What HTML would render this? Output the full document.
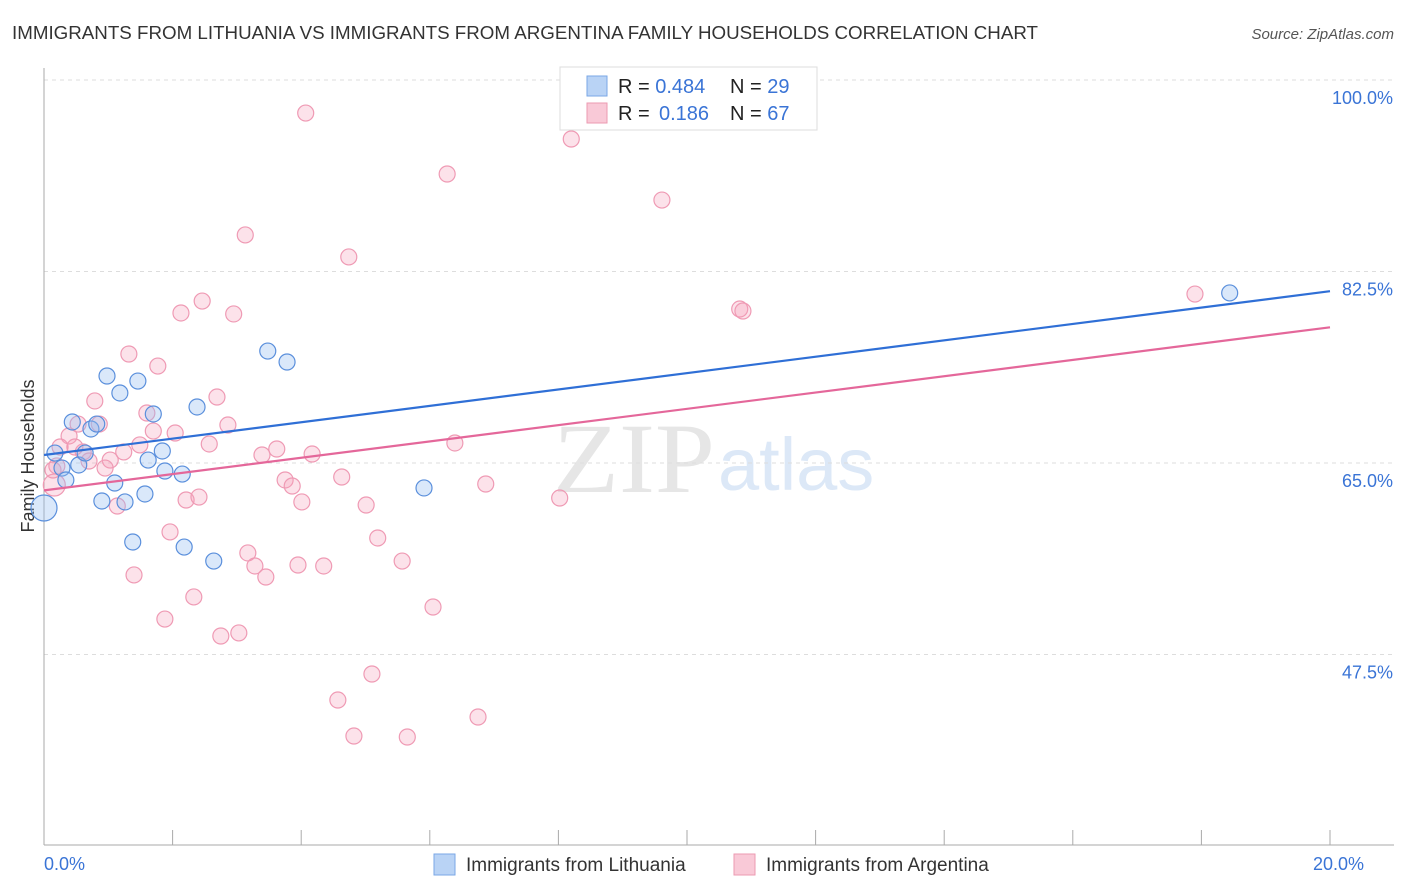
<!DOCTYPE html>
<html><head><meta charset="utf-8"><style>
body{margin:0;background:#fff;font-family:"Liberation Sans",sans-serif;}
#wrap{position:relative;width:1406px;height:892px;overflow:hidden;}
</style></head><body>
<div id="wrap">
<svg id="svg" width="1406" height="892" xmlns="http://www.w3.org/2000/svg">
<text x="12" y="39" font-size="18" fill="#333" textLength="1026" lengthAdjust="spacingAndGlyphs">IMMIGRANTS FROM LITHUANIA VS IMMIGRANTS FROM ARGENTINA FAMILY HOUSEHOLDS CORRELATION CHART</text>
<text x="1394" y="39" font-size="15" fill="#555" font-style="italic" text-anchor="end">Source: ZipAtlas.com</text>
<text x="34" y="456" font-size="18" fill="#333" text-anchor="middle" transform="rotate(-90 34 456)">Family Households</text>
<text x="553" y="492" font-size="100" fill="#e6e6e6" font-family="Liberation Serif, serif" textLength="162" lengthAdjust="spacingAndGlyphs">ZIP</text>
<text x="718" y="490" font-size="74" fill="#dce8f7">atlas</text>
<g id="grid"></g><g id="pts"></g><g id="lines"></g>
<g>
<rect x="560" y="67" width="257" height="63" fill="#fff" stroke="#ddd"/>
<rect x="587" y="76" width="20" height="20" fill="#b9d3f5" stroke="#7aa7e6"/>
<rect x="587" y="103" width="20" height="20" fill="#f9c9d7" stroke="#ec9ab2"/>
<text x="618" y="93" font-size="20" fill="#222">R = <tspan fill="#3a74d6">0.484</tspan><tspan x="730">N = </tspan><tspan fill="#3a74d6">29</tspan></text>
<text x="618" y="120" font-size="20" fill="#222">R = <tspan x="659" fill="#3a74d6">0.186</tspan><tspan x="730">N = </tspan><tspan fill="#3a74d6">67</tspan></text>
</g>
<g>
<rect x="434" y="854" width="21" height="21" fill="#b9d3f5" stroke="#7aa7e6"/>
<text x="466" y="871" font-size="19" fill="#333">Immigrants from Lithuania</text>
<rect x="734" y="854" width="21" height="21" fill="#f9c9d7" stroke="#ec9ab2"/>
<text x="766" y="871" font-size="19" fill="#333">Immigrants from Argentina</text>
</g>
</svg></div>
<script>
const yTicks=[100,82.5,65,47.5];
const yTickLabels=["100.0%","82.5%","65.0%","47.5%"];
const xTickLabels=["0.0%","20.0%"];
const blueX=[0,0.17,0.28,0.34,0.44,0.54,0.64,0.73,0.82,0.90,0.98,1.18,1.26,1.38,1.46,1.57,1.62,1.70,1.84,1.88,2.15,2.18,2.38,2.64,3.48,3.78,5.91,18.44,1.10];
const blueY=[60.89,65.91,64.54,63.45,68.75,64.82,65.91,68.11,68.56,61.53,72.95,71.40,61.44,57.78,72.49,62.17,65.27,69.48,66.10,64.27,63.99,57.32,70.12,56.04,75.23,74.23,62.72,80.54,63.17];
const pinkX=[4.07,8.20,6.27,9.61,3.13,4.74,17.90,2.46,2.13,2.95,10.82,10.87,1.32,1.77,0.79,2.69,1.60,0.86,1.70,2.04,2.86,0.39,0.25,0.61,1.03,0.70,0.95,1.24,1.49,2.57,3.62,3.39,4.17,6.39,6.87,3.75,3.86,4.63,4.01,2.21,2.41,5.01,8.02,1.14,0.16,0.14,5.19,1.96,3.17,3.28,3.45,3.95,4.35,5.57,1.40,2.33,6.05,1.88,2.75,3.03,5.10,4.57,6.75,4.82,5.65,0.20,0.48,0.53];
const pinkY=[96.98,94.61,91.41,89.03,85.84,83.83,80.44,79.80,78.71,78.62,79.07,78.89,74.96,73.86,70.67,71.03,69.57,68.56,67.92,67.74,68.47,67.47,66.46,66.01,65.27,65.18,64.54,66.01,66.65,66.74,66.28,65.73,65.82,66.83,63.08,63.45,62.90,63.72,61.44,61.62,61.89,61.16,61.80,61.07,62.99,64.36,58.15,58.70,56.78,55.59,54.58,55.68,55.59,56.04,54.77,52.76,51.84,50.74,49.19,49.47,45.72,43.34,41.79,40.05,39.96,64.73,66.46,68.56];
const blueTrend=[65.73,80.7];
const pinkTrend=[62.5,77.4];
const NS="http://www.w3.org/2000/svg";
const X=v=>44+v*64.3, Y=v=>80+(100-v)*10.943;
function mk(t,a,p){const e=document.createElementNS(NS,t);for(const k in a)e.setAttribute(k,a[k]);p.appendChild(e);return e;}
const grid=document.getElementById('grid');
yTicks.forEach((t,i)=>{
 const l=mk('line',{x1:44,x2:1394,y1:Y(t),y2:Y(t),stroke:'#ddd','stroke-dasharray':'4,4'},grid);
 
 
 const tx=mk('text',{x:1393,y:Y(t)+24,'font-size':18,fill:'#3a74d6','text-anchor':'end'},grid);tx.textContent=yTickLabels[i];
 
 
});
let ax=mk('line',{x1:44,x2:44,y1:68,y2:845,stroke:'#aaa'},grid);


ax=mk('line',{x1:44,x2:1394,y1:845,y2:845,stroke:'#aaa'},grid);


for(let i=0;i<=10;i++){const t=mk('line',{x1:X(i*2),x2:X(i*2),y1:830,y2:845,stroke:'#aaa'},grid);
 
 }
[[0,'start'],[20,'end']].forEach((d,i)=>{const t=mk('text',{x:X(d[0])+(i?34:0),y:870,'font-size':18,fill:'#3a74d6','text-anchor':d[1]},grid);t.textContent=xTickLabels[i];
 
 });
const pts=document.getElementById('pts');
pinkX.forEach((x,i)=>{const c=mk('circle',{cx:X(x),cy:Y(pinkY[i]),r:(i==44?11:8),fill:'rgba(244,160,186,0.3)',stroke:'#ef9ab4','stroke-width':1.2},pts);
 
 });
blueX.forEach((x,i)=>{const c=mk('circle',{cx:X(x),cy:Y(blueY[i]),r:(i==0?13:8),fill:'rgba(150,190,240,0.35)',stroke:'#5a8fdc','stroke-width':1.2},pts);
 
 });
const lines=document.getElementById('lines');
let l=mk('line',{x1:X(0),y1:Y(blueTrend[0]),x2:X(20),y2:Y(blueTrend[1]),stroke:'#2f6fd6','stroke-width':2.2},lines);


l=mk('line',{x1:X(0),y1:Y(pinkTrend[0]),x2:X(20),y2:Y(pinkTrend[1]),stroke:'#e4679a','stroke-width':2.2},lines);


</script>
</body></html>
